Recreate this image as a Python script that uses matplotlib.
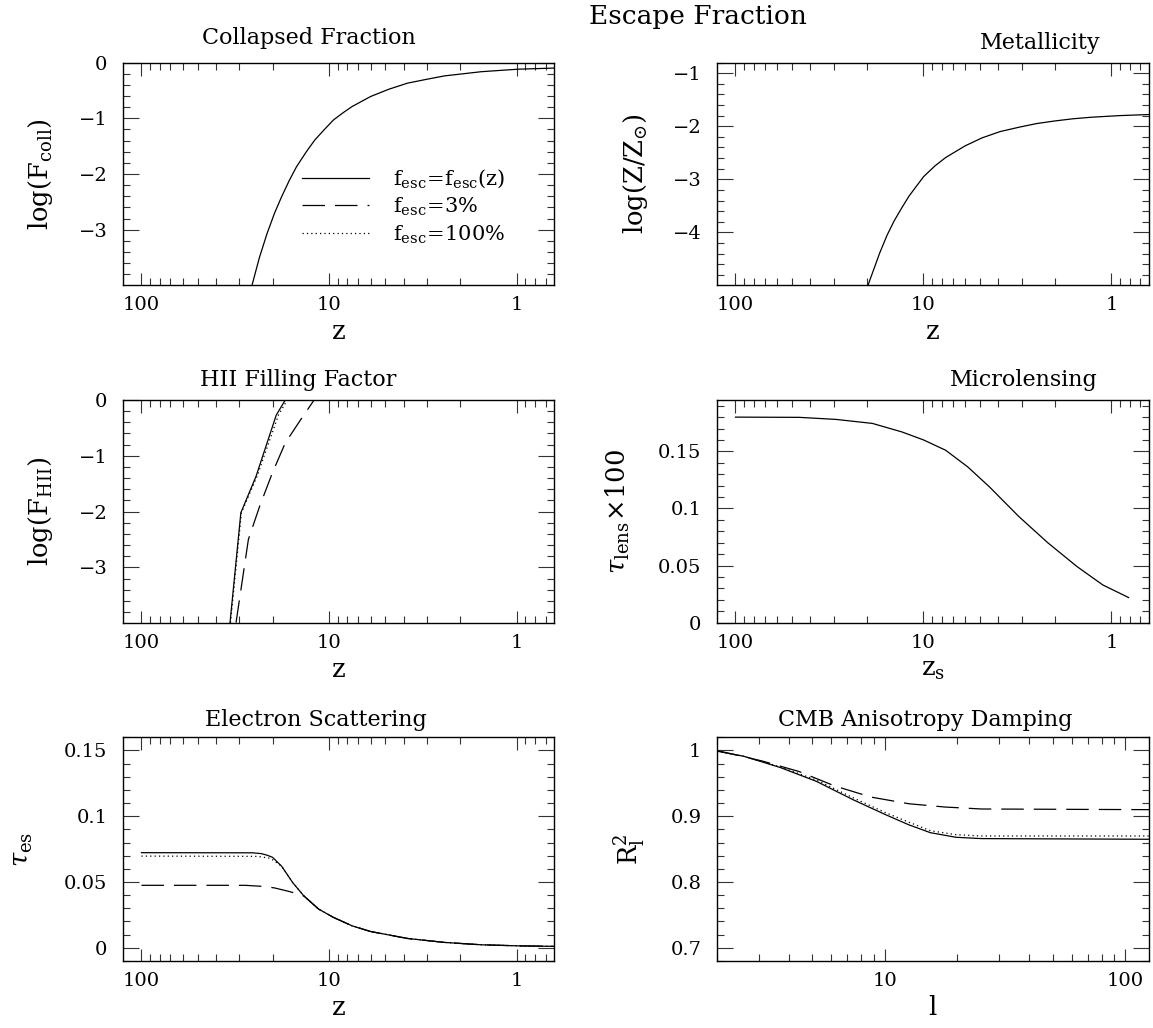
"""
Escape Fraction: six panels (collapsed fraction, metallicity, HII filling,
microlensing, electron scattering, CMB damping) vs redshift / multipole.
"""
import matplotlib
matplotlib.use("Agg")
import matplotlib.pyplot as plt
import matplotlib.ticker as mticker
import numpy as np

plt.rcParams["font.family"] = ["DejaVu Serif"]
plt.rcParams["mathtext.fontset"] = "dejavuserif"

# ─── Datos ──────────────────────────────────────────────────────────────────
# Collapsed fraction (las tres curvas coinciden)
coll_z = [25.7, 23.5, 21.4, 19.5, 17.9, 16.3, 14.9, 13.2, 11.9, 10.5, 9.46, 8.4,
          7.53, 6.0, 4.8, 3.81, 3.0, 2.42, 1.9, 1.54, 1.2, 0.98, 0.63]
coll_logf = [-3.99, -3.5, -3.07, -2.7, -2.41, -2.12, -1.87, -1.6, -1.39, -1.19,
             -1.03, -0.9, -0.79, -0.61, -0.48, -0.37, -0.3, -0.24, -0.2, -0.165,
             -0.14, -0.12, -0.10]

# Metallicity
met_z = [19.7, 17.1, 15.6, 14.3, 13.0, 11.9, 9.98, 8.7, 7.62, 6.0, 4.88, 3.9,
         3.11, 2.5, 1.99, 1.6, 1.27, 0.9, 0.634]
met_logz = [-4.99, -4.39, -4.05, -3.78, -3.53, -3.31, -2.95, -2.75, -2.59, -2.37,
            -2.22, -2.10, -2.02, -1.95, -1.90, -1.86, -1.83, -1.80, -1.78]

# HII filling factor
hii_z_solid = [33.7, 29.5, 24.5, 19.1, 17.1, 0.63]
hii_f_solid = [-3.99, -2.02, -1.37, -0.27, 0.0, 0.0]
hii_z_dot = [33.5, 29.3, 24.2, 18.6, 16.7, 0.63]
hii_f_dot = [-3.99, -2.02, -1.37, -0.27, 0.0, 0.0]
hii_z_dash = [31.3, 26.9, 23.4, 20.0, 17.1, 14.2, 12.0, 0.63]
hii_f_dash = [-3.99, -2.50, -1.90, -1.30, -0.77, -0.36, 0.0, 0.0]

# Microlensing
lens_z = [100, 45.7, 29.2, 18.7, 13.0, 9.98, 7.62, 5.82, 4.46, 3.11, 2.18,
          1.52, 1.11, 0.81]
lens_tau = [0.180, 0.1798, 0.178, 0.1745, 0.167, 0.160, 0.151, 0.1365, 0.119,
            0.093, 0.070, 0.049, 0.033, 0.022]

# Electron scattering
es_z_solid = [100, 25.5, 23.0, 21.5, 20.0, 17.9, 15.6, 13.6, 11.35, 9.46, 7.53,
              6.0, 3.81, 2.42, 1.54, 0.98, 0.63]
es_tau_solid = [0.0723, 0.0722, 0.0716, 0.0705, 0.0688, 0.0621, 0.0495, 0.0394,
                0.0294, 0.0231, 0.0167, 0.0124, 0.0071, 0.0041, 0.0023, 0.0015,
                0.0011]
es_z_dot = [100, 24.0, 20.5, 17.9, 15.6, 13.6, 11.35, 9.46, 7.53, 6.0, 3.81,
            2.42, 1.54, 0.98, 0.63]
es_tau_dot = [0.0697, 0.0695, 0.068, 0.0621, 0.0495, 0.0394, 0.0294, 0.0231,
              0.0167, 0.0124, 0.0071, 0.0041, 0.0023, 0.0015, 0.0011]
es_z_dash = [100, 28, 22, 19.5, 16.5, 14.5, 13.6, 11.35, 9.46, 7.53, 6.0, 3.81,
             2.42, 1.54, 0.98, 0.63]
es_tau_dash = [0.0475, 0.0475, 0.0466, 0.0455, 0.0430, 0.0408, 0.0394, 0.0294,
               0.0231, 0.0167, 0.0124, 0.0071, 0.0041, 0.0023, 0.0015, 0.0011]

# CMB anisotropy damping
cmb_l_solid = [2, 2.6, 3.68, 5.2, 7.4, 10, 12.6, 15.5, 19.8, 25.3, 126]
cmb_r_solid = [0.999, 0.991, 0.974, 0.953, 0.925, 0.903, 0.887, 0.875, 0.868,
               0.866, 0.865]
cmb_l_dot = [2, 2.6, 3.68, 5.2, 7.4, 10, 12.6, 15.5, 19.8, 25.3, 126]
cmb_r_dot = [0.999, 0.991, 0.975, 0.955, 0.928, 0.906, 0.891, 0.878, 0.872,
             0.870, 0.870]
cmb_l_dash = [2, 3.09, 4.4, 6.2, 8.8, 12.6, 17.8, 25.3, 126]
cmb_r_dash = [1.0, 0.984, 0.968, 0.946, 0.929, 0.919, 0.914, 0.911, 0.910]

legend_labels = [r"$\mathrm{f_{esc}\!=\!f_{esc}(z)}$",
                 r"$\mathrm{f_{esc}\!=\!3\%}$",
                 r"$\mathrm{f_{esc}\!=\!100\%}$"]

# ─── Estilos ────────────────────────────────────────────────────────────────
LW = 0.9
SOLID = dict(color="black", lw=LW, ls="-")
DASHED = dict(color="black", lw=LW, ls=(0, (18, 8)))
DOTTED = dict(color="black", lw=LW, ls=(0, (1, 2.5)))

TICK_FS = 14
LABEL_FS = 18.5
TITLE_FS = 16

COL_X = [0.1064, 0.6216]
COL_W = [0.3741, 0.3749]
ROW_Y = [0.7228, 0.3943, 0.0652]
ROW_H = [0.2164, 0.2166, 0.2176]


def fmt(v, _):
    if abs(v) < 1e-9:
        return "0"
    return f"{v:g}".replace("-", "\u2212")


fig = plt.figure(figsize=(11.53, 10.28), dpi=100)


def make_axes(row, col, xlim, ylim, ymajor, yminor):
    ax = fig.add_axes([COL_X[col], ROW_Y[row], COL_W[col], ROW_H[row]])
    ax.set_xscale("log")
    ax.set_xlim(xlim)
    ax.set_ylim(ylim)
    ax.xaxis.set_major_locator(mticker.LogLocator(base=10, numticks=10))
    ax.xaxis.set_minor_locator(mticker.LogLocator(base=10, subs=np.arange(2, 10), numticks=30))
    ax.xaxis.set_major_formatter(mticker.FuncFormatter(fmt))
    ax.xaxis.set_minor_formatter(mticker.NullFormatter())
    ax.yaxis.set_major_locator(mticker.MultipleLocator(ymajor))
    ax.yaxis.set_minor_locator(mticker.MultipleLocator(yminor))
    ax.yaxis.set_major_formatter(mticker.FuncFormatter(fmt))
    ax.tick_params(which="both", direction="in", top=True, right=True,
                   width=0.8, color="#333333", labelsize=TICK_FS)
    ax.tick_params(axis="x", which="major", length=9, pad=8)
    ax.tick_params(axis="x", which="minor", length=5)
    ax.tick_params(axis="y", which="major", length=11.5, pad=11)
    ax.tick_params(axis="y", which="minor", length=5)
    for sp in ax.spines.values():
        sp.set_linewidth(1.0)
    return ax


def labels(ax, xlabel, ylabel, ylab_x, title, tx, ty):
    ax.text(0.5, -0.21, xlabel, transform=ax.transAxes, ha="center", va="center",
            fontsize=LABEL_FS)
    ax.text(ylab_x, 0.5, ylabel, transform=ax.transAxes, ha="center", va="center",
            rotation=90, fontsize=LABEL_FS)
    ax.text(tx, ty, title, transform=ax.transAxes, ha="center", va="baseline",
            fontsize=TITLE_FS)


Z_LIM = (10 ** 2.1, 10 ** -0.2)
L_LIM = (2, 10 ** 2.1)

# ─── Collapsed Fraction ─────────────────────────────────────────────────────
ax1 = make_axes(0, 0, Z_LIM, (-3.99, 0), 1, 0.2)
ax1.plot(coll_z, coll_logf, **SOLID)
handles = [plt.Line2D([], [], **SOLID), plt.Line2D([], [], **DASHED),
           plt.Line2D([], [], **DOTTED)]
ax1.legend(handles, legend_labels, loc="upper left", bbox_to_anchor=(0.416, 0.528),
           frameon=False, borderaxespad=0, borderpad=0, handlelength=3.2,
           handletextpad=1.15, labelspacing=0.26, fontsize=15)
labels(ax1, "z", r"$\mathrm{log(F_{coll})}$", -0.19, "Collapsed Fraction", 0.432, 1.083)

# ─── Metallicity ────────────────────────────────────────────────────────────
ax2 = make_axes(0, 1, Z_LIM, (-4.99, -0.8), 1, 0.2)
ax2.plot(met_z, met_logz, **SOLID)
labels(ax2, "z", r"$\mathrm{log(Z/Z_{\odot})}$", -0.189, "Metallicity", 0.748, 1.059)

# ─── HII Filling Factor ─────────────────────────────────────────────────────
ax3 = make_axes(1, 0, Z_LIM, (-3.99, 0), 1, 0.2)
ax3.plot(hii_z_dash, hii_f_dash, **DASHED)
ax3.plot(hii_z_dot, hii_f_dot, **DOTTED)
ax3.plot(hii_z_solid, hii_f_solid, **SOLID)
labels(ax3, "z", r"$\mathrm{log(F_{HII})}$", -0.19, "HII Filling Factor", 0.408, 1.063)

# ─── Microlensing ───────────────────────────────────────────────────────────
ax4 = make_axes(1, 1, Z_LIM, (0, 0.195), 0.05, 0.01)
ax4.plot(lens_z, lens_tau, **SOLID)
labels(ax4, r"$\mathrm{z_s}$", r"$\tau_{\mathrm{lens}}\!\times\!100$", -0.228,
       "Microlensing", 0.710, 1.065)

# ─── Electron Scattering ────────────────────────────────────────────────────
ax5 = make_axes(2, 0, Z_LIM, (-0.01, 0.16), 0.05, 0.01)
ax5.plot(es_z_dash, es_tau_dash, **DASHED)
ax5.plot(es_z_dot, es_tau_dot, **DOTTED)
ax5.plot(es_z_solid, es_tau_solid, **SOLID)
labels(ax5, "z", r"$\tau_{\mathrm{es}}$", -0.232, "Electron Scattering", 0.447, 1.05)

# ─── CMB Anisotropy Damping ─────────────────────────────────────────────────
ax6 = make_axes(2, 1, L_LIM, (0.68, 1.02), 0.1, 0.02)
ax6.plot(cmb_l_dash, cmb_r_dash, **DASHED)
ax6.plot(cmb_l_dot, cmb_r_dot, **DOTTED)
ax6.plot(cmb_l_solid, cmb_r_solid, **SOLID)
labels(ax6, "l", r"$\mathrm{R_l^2}$", -0.203, "CMB Anisotropy Damping", 0.483, 1.05)

fig.text(0.605, 0.977, "Escape Fraction", ha="center", va="baseline", fontsize=19)

fig.savefig("out.png", dpi=100)
